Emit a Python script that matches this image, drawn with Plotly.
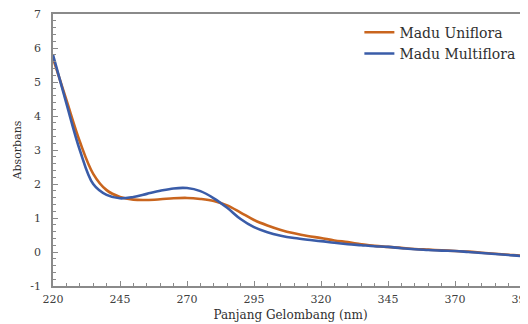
import plotly.graph_objects as go

wavelength = [220, 225, 230, 235, 240, 245, 250, 255, 260, 265, 270, 275, 280, 285, 290, 295, 300, 305, 310, 315, 320, 325, 330, 335, 340, 345, 350, 355, 360, 365, 370, 375, 380, 385, 390, 395, 400]
uniflora = [5.70, 4.47, 3.25, 2.30, 1.82, 1.62, 1.54, 1.53, 1.55, 1.58, 1.59, 1.56, 1.50, 1.37, 1.16, 0.94, 0.78, 0.65, 0.55, 0.47, 0.41, 0.34, 0.29, 0.23, 0.18, 0.15, 0.12, 0.09, 0.07, 0.05, 0.03, 0.01, -0.02, -0.05, -0.08, -0.11, -0.13]
multiflora = [5.80, 4.37, 3.00, 2.00, 1.68, 1.58, 1.62, 1.71, 1.80, 1.87, 1.88, 1.79, 1.58, 1.30, 0.97, 0.73, 0.58, 0.48, 0.41, 0.36, 0.32, 0.27, 0.23, 0.20, 0.17, 0.15, 0.11, 0.08, 0.06, 0.04, 0.03, 0.00, -0.03, -0.06, -0.09, -0.12, -0.14]

x_ticks = [220, 245, 270, 295, 320, 345, 370, 395]
y_ticks = [-1, 0, 1, 2, 3, 4, 5, 6, 7]

font_family = "DejaVu Serif"
axis_color = "#8a8a8a"

fig = go.Figure()
fig.add_trace(go.Scatter(x=wavelength, y=uniflora, mode="lines", name="Madu Uniflora",
                         line=dict(color="#C9651E", width=2.6, shape="spline", smoothing=1.0)))
fig.add_trace(go.Scatter(x=wavelength, y=multiflora, mode="lines", name="Madu Multiflora",
                         line=dict(color="#3A5CA8", width=2.6, shape="spline", smoothing=1.0)))

fig.update_layout(
    width=520, height=316,
    margin=dict(l=45, r=0, t=6, b=38),
    paper_bgcolor="white", plot_bgcolor="white",
    font=dict(family=font_family, size=11, color="#404040"),
    showlegend=True,
    legend=dict(x=0.645, y=0.99, xanchor="left", yanchor="top",
                bgcolor="rgba(0,0,0,0)", font=dict(family=font_family, size=14, color="#303030"),
                tracegroupgap=0),
)
fig.update_xaxes(
    range=[220, 220 + 475 / 67 * 25], tickvals=x_ticks, ticktext=[str(v) for v in x_ticks],
    automargin=False, ticklabeloverflow="allow",
    showgrid=False, zeroline=False, showline=True, linecolor=axis_color, linewidth=1.5,
    mirror=True, ticks="inside", ticklen=5, tickcolor=axis_color,
    minor=dict(ticks="inside", dtick=5, ticklen=3, tickcolor=axis_color),
    ticklabelstandoff=2,
    title=dict(text="Panjang Gelombang (nm)", font=dict(family=font_family, size=12, color="#303030"), standoff=6),
    tickfont=dict(family=font_family, size=11, color="#404040"),
)
fig.update_yaxes(
    range=[-1, 7], tickvals=y_ticks, ticktext=[str(v) for v in y_ticks],
    automargin=False, ticklabeloverflow="allow",
    showgrid=False, zeroline=False, showline=True, linecolor=axis_color, linewidth=1.5,
    mirror=False, ticks="inside", ticklen=5, tickcolor=axis_color,
    minor=dict(ticks="inside", dtick=0.2, ticklen=3, tickcolor=axis_color),
    ticklabelstandoff=8,
    title=dict(text="Absorbans", font=dict(family=font_family, size=11, color="#303030"), standoff=6),
    tickfont=dict(family=font_family, size=11, color="#404040"),
)

fig.write_html("out.html")
